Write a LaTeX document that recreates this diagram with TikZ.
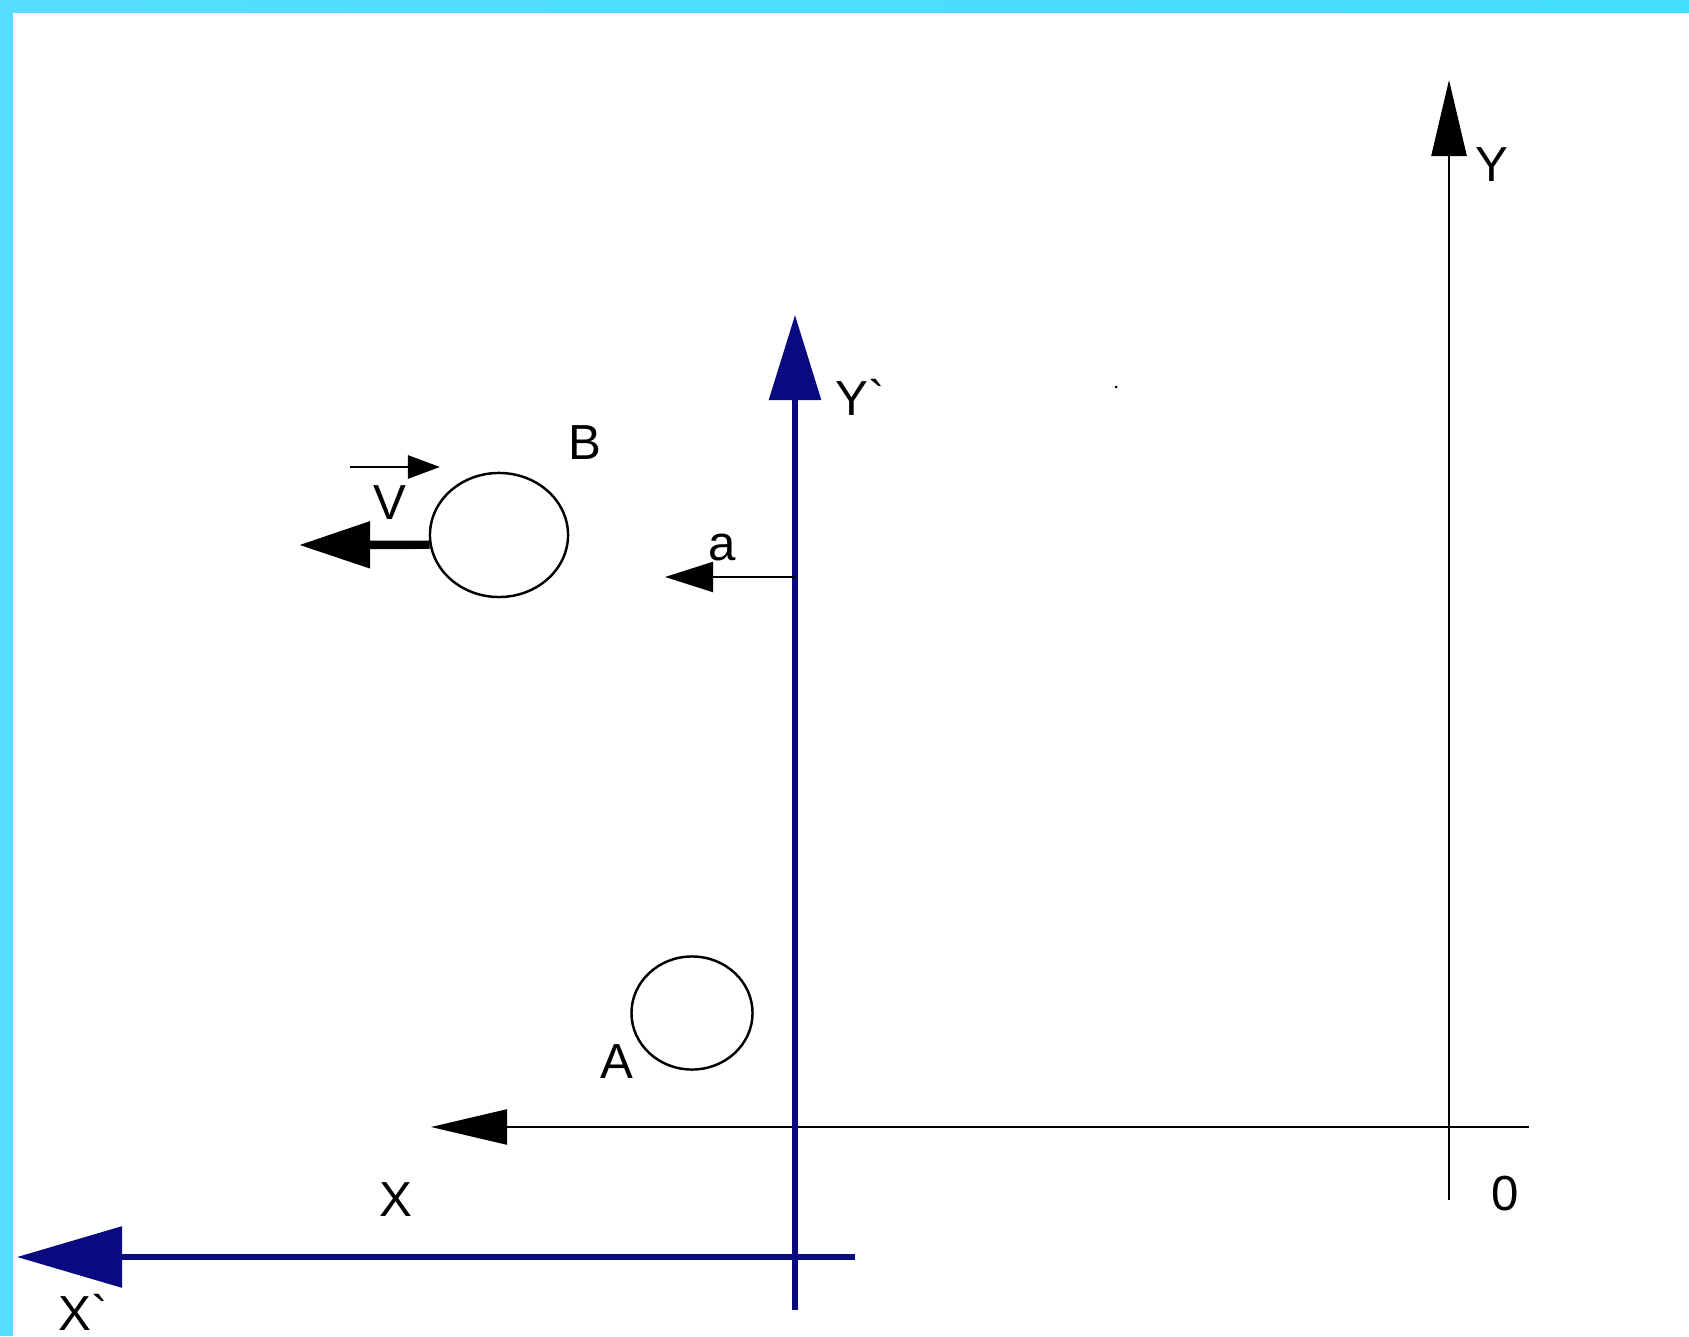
\documentclass[tikz,border=0pt]{standalone}
\usepackage{fontspec}
\setmainfont{Liberation Sans}
\usetikzlibrary{arrows.meta, shapes.geometric}
\definecolor{axisblue}{HTML}{0A0A80}
\definecolor{frameL}{HTML}{55DDFF}
\definecolor{frameM}{HTML}{99EEFF}
\definecolor{frameR}{HTML}{44DDFF}

\begin{document}
\begin{tikzpicture}[x=0.01cm, y=0.01cm,
  restaxis/.style={line width=0.7pt, -{Triangle[length=0.76cm, width=0.35cm]}},
  moveaxis/.style={line width=1.7pt, axisblue},
  ball/.style={ellipse, draw, line width=0.7pt, inner sep=0pt},
  txt/.style={font=\fontsize{14}{16}\selectfont, inner sep=0pt},
]

\useasboundingbox (0,0) rectangle (1689,1336);
\fill[white] (0,0) rectangle (1689,1336);
\fill[frameL] (0,0) rectangle (13,1336);
\shade[left color=frameL, middle color=frameM, right color=frameR] (0,1323) rectangle (1689,1336);

\coordinate (yBot) at (1449,136);
\coordinate (yTop) at (1449,1256);
\coordinate (xEnd) at (1529,209);
\coordinate (xTip) at (431,209);
\coordinate (ypBot) at (795,26);
\coordinate (ypTop) at (795,1021);
\coordinate (xpEnd) at (855,79);
\coordinate (xpTip) at (17,79);
\coordinate (aBase) at (795,759);
\coordinate (aTip) at (665,759);
\coordinate (bTip) at (299,791);
\coordinate (vStart) at (350,869);
\coordinate (vTip) at (440,869);

\node[ball, minimum width=1.38cm, minimum height=1.24cm] (ballB) at (499,801) {};
\node[ball, minimum width=1.21cm, minimum height=1.13cm] (ballA) at (692,1336-1013) {};

\node[txt] (lblY) at (1492,1171) {Y};
\node[txt] (lblYp) at (860,939) {Y\textasciigrave};
\node[txt] (lblO) at (1505,142) {0};
\node[txt] (lblX) at (396,136) {X};
\node[txt] (lblXp) at (83,24) {X\textasciigrave};
\node[txt] (lblA) at (617,274) {A};
\node[txt] (lblB) at (585,893) {B};
\node[txt] (lblV) at (390,833) {V};
\node[txt] (lbla) at (722,789) {a};

\draw[restaxis] (yBot) -- (yTop);
\draw[restaxis] (xEnd) -- (xTip);
\draw[moveaxis, -{Triangle[length=0.85cm, width=0.51cm]}] (ypBot) -- (ypTop);
\draw[moveaxis, -{Triangle[length=1.05cm, width=0.6cm]}] (xpEnd) -- (xpTip);
\draw[line width=0.6pt, -{Triangle[length=0.48cm, width=0.3cm]}] (aBase) -- (aTip);
\draw[line width=2.4pt, -{Triangle[length=0.71cm, width=0.45cm]}] (ballB.188) -- (bTip);
\draw[line width=0.7pt, -{Triangle[length=0.32cm, width=0.23cm]}] (vStart) -- (vTip);

\fill (1116,949) circle (1.5);

\end{tikzpicture}
\end{document}
